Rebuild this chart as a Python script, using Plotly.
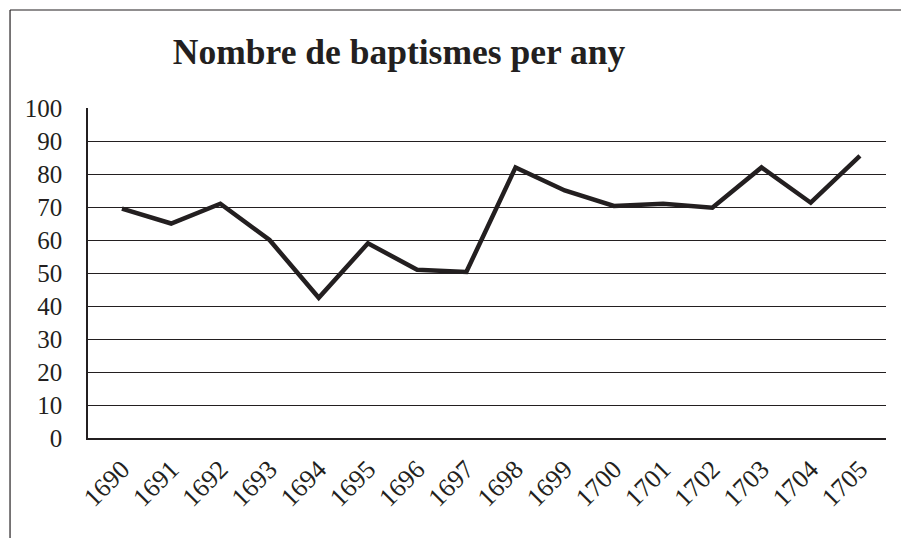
import plotly.graph_objects as go

# Baptismes per any (llegits del gràfic)
years = [1690, 1691, 1692, 1693, 1694, 1695, 1696, 1697,
         1698, 1699, 1700, 1701, 1702, 1703, 1704, 1705]
baptisms = [69.5, 65, 71, 60, 42.5, 59, 51, 50.3,
            82, 75, 70.3, 71, 69.8, 82, 71.3, 85.5]
y_ticks = [0, 10, 20, 30, 40, 50, 60, 70, 80, 90, 100]

fig = go.Figure()
fig.add_trace(go.Scatter(x=years, y=baptisms, mode='lines',
                         line=dict(color='#231f20', width=4.5),
                         showlegend=False))

# the page body adds 8px, so the figure is 8px smaller than the window
fig.update_layout(
    width=901, height=530,
    margin=dict(l=80, r=23, t=100, b=100),
    paper_bgcolor='white', plot_bgcolor='white',
    font=dict(family='Liberation Serif', color='#231f20', size=25),
    title=dict(text='<b>Nombre de baptismes per any</b>',
               font=dict(family='Liberation Serif', size=35.5, color='#231f20'),
               x=0.434, xanchor='center', y=0.917, yanchor='middle'),
    xaxis=dict(range=[1689.31, 1705.53], tickvals=years,
               ticktext=[str(y) for y in years], tickangle=-45,
               showgrid=False, zeroline=False, showline=True,
               linecolor='#231f20', linewidth=1.5, ticks='',
               ticklabelstandoff=4, tickfont=dict(size=26)),
    yaxis=dict(range=[0, 100], tickvals=y_ticks, showgrid=True,
               gridcolor='#231f20', gridwidth=1, zeroline=False,
               showline=True, linecolor='#231f20', linewidth=1.5,
               ticks='', ticklabelstandoff=19),
)

# outer frame (bottom edge lies below the visible image)
fig.add_shape(type='line', xref='paper', yref='paper',
              x0=-0.0977, x1=-0.0977, y0=-0.4, y1=1.297,
              line=dict(color='#231f20', width=1.2))
fig.add_shape(type='line', xref='paper', yref='paper',
              x0=-0.0977, x1=1.025, y0=1.297, y1=1.297,
              line=dict(color='#231f20', width=1.2))
fig.add_shape(type='line', xref='paper', yref='paper',
              x0=1.025, x1=1.025, y0=-0.4, y1=1.297,
              line=dict(color='#231f20', width=1.2))

fig.write_html("out.html")
